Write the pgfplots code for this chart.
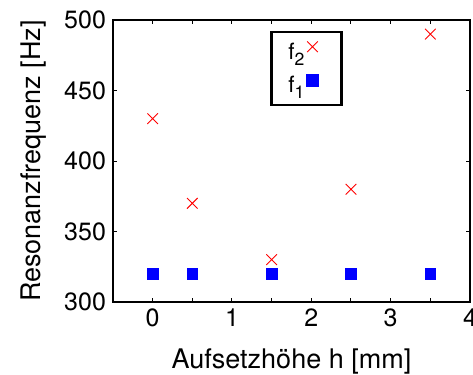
\documentclass[border=0pt]{standalone}
\usepackage{fontspec}
\setmainfont{TeX Gyre Heros}
\usepackage{pgfplots}
\pgfplotsset{compat=1.18}
\newcommand{\legtext}[1]{{\fontsize{11.2}{13}\selectfont f\raisebox{-3pt}{\fontsize{8.8}{10}\selectfont #1}}}
\begin{document}
\begin{tikzpicture}
\begin{axis}[
  at={(0,0)}, anchor=south west,
  scale only axis,
  width=178.5pt, height=141pt,
  xmin=-0.5, xmax=4, ymin=300, ymax=500,
  xtick={0,1,2,3,4},
  minor xtick={0.5,1.5,2.5,3.5},
  ytick={300,350,400,450,500},
  tick align=inside,
  major tick length=2.2pt, minor tick length=2.2pt,
  every tick/.style={black, line width=0.5pt},
  axis line style={line width=0.7pt},
  /pgf/number format/assume math mode=true,
  ticklabel style={font=\fontsize{12.5}{14}\selectfont},
  label style={font=\fontsize{13.5}{15}\selectfont},
  xlabel={Aufsetzhöhe h [mm]},
  ylabel={Resonanzfrequenz [Hz]},
  xlabel shift=4pt,
  ylabel shift=2.3pt,
  legend style={at={(0.4405,0.9617)}, anchor=north west, draw=black, line width=1.2pt,
    inner xsep=8.5pt, inner ysep=4.7pt, row sep=6.3pt, column sep=0pt,
    cells={anchor=east}, nodes={inner sep=0pt}},
  legend cell align=right,
  legend plot pos=right,
  legend image code/.code={%
    \path[draw=none, fill=none] (0pt,0pt) -- (10pt,0pt);
    \draw[#1] plot coordinates {(4pt,2.85pt)};},
]
\addplot[only marks, mark=x, mark size=3.75pt, color=red, line width=0.45pt]
  coordinates {(0,430) (0.5,370) (1.5,330) (2.5,380) (3.5,490)};
\addlegendentry{\legtext{2}}
\addplot[only marks, mark=square*, mark size=2.7pt, color=blue]
  coordinates {(0,320) (0.5,320) (1.5,320) (2.5,320) (3.5,320)};
\addlegendentry{\legtext{1}}
\end{axis}
\pgfresetboundingbox
\path (-56.5pt,-36.5pt) rectangle (180pt,151pt);
\end{tikzpicture}
\end{document}
